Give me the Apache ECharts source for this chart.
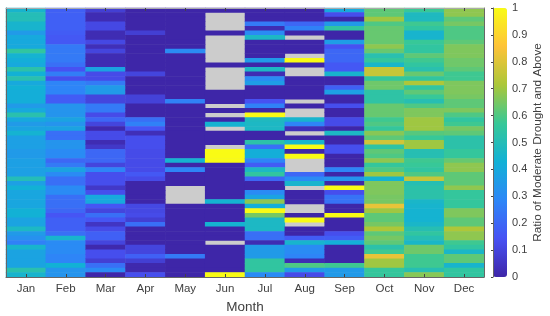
<!DOCTYPE html>
<html><head><meta charset="utf-8">
<script src="https://cdn.jsdelivr.net/npm/echarts@6/dist/echarts.min.js"></script>
<style>html,body{margin:0;padding:0;background:#fff}#c{width:550px;height:316px}</style>
</head><body><div id="c"></div>
<script>
const months = ['Jan','Feb','Mar','Apr','May','Jun','Jul','Aug','Sep','Oct','Nov','Dec'];
const colorTicks = [0,0.1,0.2,0.3,0.4,0.5,0.6,0.7,0.8,0.9,1];
const N = null;
const jan = [.45,.5,.5,.45,.45,.35,.4,.4,.4,.55,.44,.42,.4,.53,.43,.52,.4,.43,.42,.42,.42,.35,.4,.52,.4,.35,.38,.44,.37,.37,.37,.35,.35,.37,.37,.37,.37,.5,.37,.43,.39,.39,.39,.39,.43,.43,.38,.38,.47,.35,.32,.27,.45,.38,.38,.38,.38,.52,.45];
const feb = [.18,.18,.18,.18,.18,.17,.16,.16,.25,.25,.25,.25,.22,.14,.26,.13,.28,.28,.28,.17,.17,.33,.33,.33,.38,.33,.38,.22,.22,.33,.33,.3,.3,.2,.25,.38,.3,.22,.22,.3,.3,.22,.22,.22,.2,.15,.18,.18,.18,.22,.45,.3,.3,.3,.28,.28,.43,.33,.33];
const mar = [.08,.02,.02,.11,.11,.02,.02,.11,.03,.1,.02,.02,.02,.38,.12,.12,.25,.35,.35,.1,.1,.25,.25,.12,.2,.1,.01,.12,.12,.02,.06,.2,.2,.2,.1,.28,.13,.13,.13,.06,.13,.4,.4,.15,.1,.22,.15,.05,.12,.18,.18,.1,.01,.13,.13,.08,.22,.3,0];
const apr = [0,0,0,0,0,.08,0,0,0,0,0,0,0,0,.1,0,0,0,0,.09,.09,0,0,0,.22,.27,.15,.03,.13,.13,.13,.12,.12,.12,.12,.12,.16,.12,0,0,0,0,0,.11,.11,.12,.08,.22,0,0,0,0,.1,.1,.18,.08,.01,.01,.13];
const may = [0,0,0,0,0,0,0,0,0,.3,0,0,0,0,0,0,0,0,0,0,.27,0,0,0,0,0,0,0,0,0,0,0,0,.44,0,.28,0,0,0,N,N,N,N,0,0,0,0,0,0,0,0,0,0,0,.25,0,0,0,0];
const jun = [0,N,N,N,N,0,N,N,N,N,N,N,0,N,N,N,N,N,0,0,0,N,0,N,0,.44,N,0,0,0,N,1,1,1,0,0,0,0,0,0,0,0,.44,0,0,0,0,.44,0,0,0,N,0,0,0,0,0,0,1];
const jul = [0,0,0,.25,.02,.3,.47,0,0,0,0,.35,0,.47,.02,.3,.36,0,0,0,.14,.27,0,1,.48,.47,.47,0,0,.53,.22,.42,.42,.28,.17,.47,.55,.2,0,0,.3,.38,.68,.42,1,.65,.47,.47,.47,.22,.22,.02,.35,.35,.35,.55,.55,.55,.3];
const aug = [0,0,0,.2,.27,0,N,0,0,0,N,1,0,N,N,0,0,0,0,0,N,0,N,N,.45,.28,.03,N,0,.45,1,0,1,N,N,N,.2,.3,.45,N,0,0,0,N,N,0,1,N,0,0,.17,.45,.3,.3,.28,.02,.6,.35,.12];
const sep = [.4,.13,0,.35,.55,0,0,.36,.14,.2,.2,.2,.16,.16,.45,0,0,.18,.37,0,0,.13,0,0,.12,.12,0,.47,0,0,.13,.13,0,0,0,.28,0,.33,0,1,.13,.23,.23,0,0,1,0,0,0,.13,.17,.42,0,0,0,0,.58,.35,.35];
const oct = [.62,.62,.7,.6,.63,.63,.63,.63,.68,.63,.52,.56,.46,.76,.76,.56,.64,.64,.54,.54,.54,.63,.63,.63,.58,.6,.56,.67,.62,.78,.54,.62,.6,.68,.56,.6,.7,.44,.66,.66,.66,.65,.65,.82,.7,.62,.62,.65,.72,.62,.65,.62,.53,.58,.82,.7,.7,.56,.56];
const nov = [.57,.48,.48,.58,.55,.45,.45,.57,.55,.55,.62,.58,.55,.52,.63,.55,.72,.55,.62,.57,.51,.6,.66,.66,.7,.7,.7,.61,.57,.7,.7,.51,.51,.58,.57,.55,.6,.76,.51,.53,.53,.53,.46,.45,.44,.44,.44,.46,.51,.55,.51,.46,.64,.64,.58,.58,.58,.51,.67];
const dec = [.68,.68,.62,.65,.6,.6,.6,.62,.66,.66,.66,.64,.64,.62,.58,.58,.66,.66,.66,.65,.62,.62,.66,.6,.55,.58,.65,.62,.53,.53,.53,.56,.56,.63,.68,.68,.62,.62,.62,.68,.56,.56,.56,.56,.66,.66,.62,.62,.72,.68,.68,.58,.55,.46,.62,.62,.45,.55,.55];
const columns = [jan,feb,mar,apr,may,jun,jul,aug,sep,oct,nov,dec];
const rows = jan.map((_, i) => 1960 + i);
const parula = ['#3e26a8','#4752f4','#2d87f7','#12b1d6','#37c897','#abc739','#fec338','#f9fb15'];

const cells = [];
columns.forEach((col, m) => col.forEach((v, r) => { if (v !== null) cells.push([m, r, v]); }));

const font = '"Liberation Sans", Arial, sans-serif';
const txt = '#404040', ax = '#666666';
const chart = echarts.init(document.getElementById('c'), null, {renderer:'canvas'});
chart.setOption({
  animation:false,
  textStyle:{fontFamily:font},
  grid:[
    {left:6, top:8, width:478, height:269, show:true, backgroundColor:'#cccccc', borderWidth:0, outerBoundsMode:'none'},
    {left:493, top:8, width:14, height:269, show:false, outerBoundsMode:'none'}
  ],
  xAxis:[
    {type:'category', gridIndex:0, data:months, position:'bottom', name:'Month', nameLocation:'middle', nameGap:20,
     nameTextStyle:{fontSize:13.5, color:txt, fontFamily:font},
     axisLine:{show:true, lineStyle:{color:ax, width:1}},
     axisTick:{show:true, inside:true, alignWithLabel:true, length:3, lineStyle:{color:'#444'}},
     axisLabel:{fontSize:11.5, color:txt, margin:6, fontFamily:font}, splitLine:{show:false}, z:5},
    {type:'category', gridIndex:0, data:months, position:'top',
     axisLine:{show:true, lineStyle:{color:'#aaaaaa', width:1}},
     axisTick:{show:true, inside:true, alignWithLabel:true, length:3, lineStyle:{color:'#444'}},
     axisLabel:{show:false}, splitLine:{show:false}, z:5},
    {type:'value', gridIndex:1, min:0, max:1, show:false}
  ],
  yAxis:[
    {type:'category', gridIndex:0, data:rows, inverse:true, position:'left',
     axisLine:{show:true, lineStyle:{color:ax, width:1}}, axisTick:{show:false}, axisLabel:{show:false}, splitLine:{show:false}, z:5},
    {type:'category', gridIndex:0, data:rows, inverse:true, position:'right',
     axisLine:{show:true, lineStyle:{color:ax, width:1}}, axisTick:{show:false}, axisLabel:{show:false}, splitLine:{show:false}, z:5},
    {type:'value', gridIndex:1, min:0, max:1, interval:0.1, position:'right',
     name:'Ratio of Moderate Drought and Above', nameLocation:'middle', nameGap:25, nameRotate:90,
     nameTextStyle:{fontSize:11.8, color:txt, fontFamily:font},
     axisLine:{show:true, lineStyle:{color:ax, width:1}},
     axisTick:{show:true, inside:true, length:2, lineStyle:{color:'#444'}},
     axisLabel:{fontSize:11, color:txt, margin:5, fontFamily:font,
       formatter:v => String(colorTicks[Math.round(v*10)])},
     splitLine:{show:false}, z:5}
  ],
  visualMap:{type:'continuous', min:0, max:1, seriesIndex:0, calculable:false, orient:'vertical',
    left:493, top:8, padding:0, itemWidth:14, itemHeight:269, z:1, hoverLink:false,
    inRange:{color:parula}, textStyle:{fontSize:1, color:'transparent'}},
  series:[{type:'heatmap', xAxisIndex:0, yAxisIndex:0, data:cells, progressive:0,
    itemStyle:{borderWidth:0}, emphasis:{disabled:true}}]
});
</script></body></html>
